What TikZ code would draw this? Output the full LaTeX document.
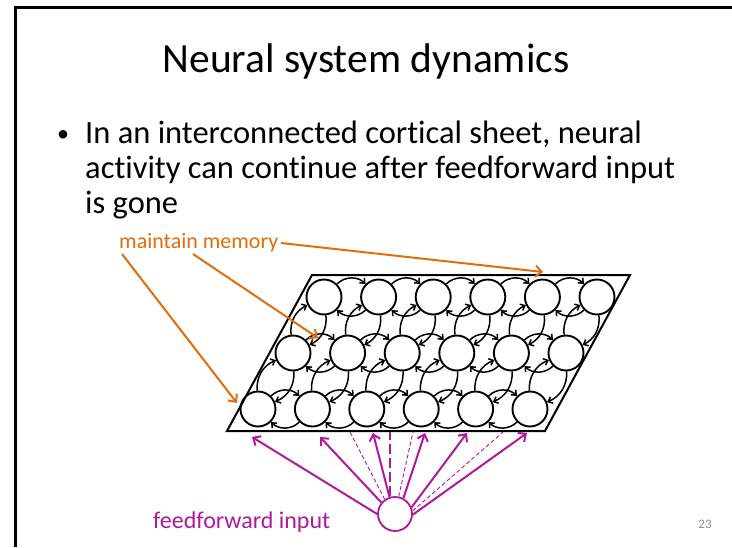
\documentclass[tikz,border=0pt]{standalone}
\usepackage{fontspec}
\setmainfont{Carlito}[Ligatures={NoCommon}]
\usetikzlibrary{arrows.meta}
\definecolor{memorange}{RGB}{228,108,10}
\definecolor{ffmagenta}{RGB}{176,24,160}
\definecolor{pagenum}{RGB}{140,140,140}
\tikzset{
  cell/.style={circle, draw=black, line width=1.9pt, minimum size=35pt, inner sep=0pt},
  link/.style={line width=1.5pt, -{Straight Barb[length=4pt,width=7pt]}},
  sheet/.style={line width=2pt, line join=miter},
  frame/.style={line width=3.3pt},
  callout/.style={memorange, line width=2pt, -{Straight Barb[length=6pt,width=11pt]}},
  drive/.style={ffmagenta, line width=2pt, -{Straight Barb[length=6pt,width=11pt]}},
  weak/.style={ffmagenta, line width=0.9pt, dash pattern=on 4pt off 2.5pt},
  strongdash/.style={ffmagenta, line width=2pt, dash pattern=on 10pt off 4pt},
  titletext/.style={font=\fontsize{41.5}{49}\selectfont, anchor=base},
  bodytext/.style={font=\fontsize{32.5}{39}\selectfont, anchor=base west, inner sep=0pt},
  labeltext/.style={font=\fontsize{22}{27}\selectfont, anchor=base west, inner sep=0pt},
}
\begin{document}
\begin{tikzpicture}[x=1pt,y=-1pt]
\useasboundingbox (0,0) rectangle (732,547);

% slide frame
\draw[frame] (15.3,547) -- (15.3,7.7) -- (732,7.7);

% title and bullet text
\node[titletext] (title) at (366,72) {Neural system dynamics};
\node[font=\fontsize{24}{28}\selectfont, anchor=base] (bullet) at (63,141) {\textbullet};
\node[bodytext] (line1) at (85,143) {In an interconnected cortical sheet, neural};
\node[bodytext] (line2) at (85,178) {activity can continue after feedforward input};
\node[bodytext] (line3) at (85,213) {is gone};

% the cortical sheet
\draw[sheet] (227,431) -- (545,431) -- (630,275) -- (312,275) -- cycle;

\foreach \c in {0,...,5} {
  \node[cell] (t\c) at ({324+54.6*\c},297) {};
  \node[cell] (m\c) at ({293+54.6*\c},353) {};
  \node[cell] (b\c) at ({258+54.4*\c},409) {};
}

% recurrent links along each row
\foreach \r in {t,m,b} {
  \foreach \c [evaluate=\c as \d using {int(\c+1)}] in {0,...,4} {
    \draw[link] (\r\c) to[bend left=45] (\r\d);
    \draw[link] (\r\d) to[bend left=45] (\r\c);
  }
}
% recurrent links between rows
\foreach \c in {0,...,5} {
  \draw[link] (m\c) to[bend left=35] (t\c);
  \draw[link] (t\c) to[bend left=35] (m\c);
  \draw[link] (b\c) to[bend left=35] (m\c);
  \draw[link] (m\c) to[bend left=35] (b\c);
}

% memory callout
\node[labeltext, text=memorange] (mem) at (119,248) {maintain memory};
\coordinate (oa) at (122,254);
\coordinate (ob) at (193,254);
\coordinate (oc) at (281,243);
\coordinate (ea) at (237,403);
\coordinate (eb) at (318,338);
\coordinate (ec) at (543,272);
\draw[callout] (oa) -- (ea);
\draw[callout] (ob) -- (eb);
\draw[callout] (oc) -- (ec);

% feedforward input
\node[circle, draw=ffmagenta, line width=1.8pt, minimum size=34pt, inner sep=0pt] (ff) at (395,514) {};
\node[labeltext, font=\fontsize{24}{29}\selectfont, text=ffmagenta] (fflabel) at (153,528) {feedforward input};

\coordinate (p1) at (252,437);
\coordinate (p2) at (320,437);
\coordinate (p3) at (373,433);
\coordinate (p4) at (425,433);
\coordinate (p5) at (467,433);
\coordinate (p6) at (527,433);
\coordinate (d1) at (350,432);
\coordinate (d2) at (413,432);
\coordinate (d3) at (503,432);
\coordinate (dv) at (390,432);

\draw[drive] (ff.180) -- (p1);
\draw[drive] (ff.140) -- (p2);
\draw[drive] (ff.108) -- (p3);
\draw[drive] (ff.62) -- (p4);
\draw[drive] (ff.22) -- (p5);
\draw[drive] (ff.-2) -- (p6);
\draw[weak] (ff.125) -- (d1);
\draw[weak] (ff.78) -- (d2);
\draw[weak] (ff.10) -- (d3);
\draw[strongdash] (ff.north -| dv) -- (dv);

% slide number
\node[font=\fontsize{13}{15}\selectfont, text=pagenum] (num) at (705,524) {23};
\end{tikzpicture}
\end{document}
